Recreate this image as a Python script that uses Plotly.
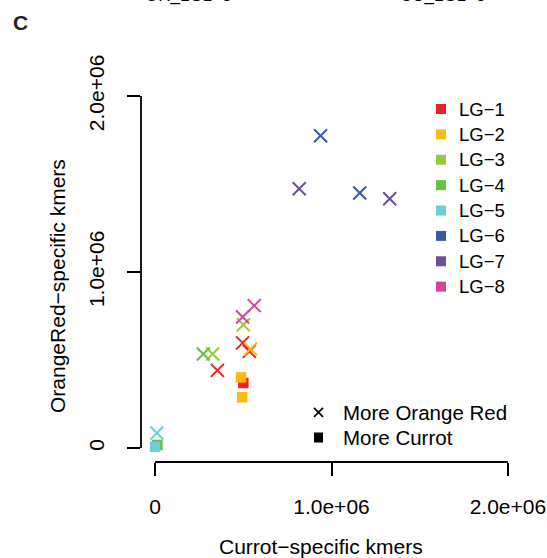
import plotly.graph_objects as go

# Linkage groups and their colours
lg_names = ["LG−1", "LG−2", "LG−3", "LG−4", "LG−5", "LG−6", "LG−7", "LG−8"]
lg_colors = ["#EE2025", "#FDBB13", "#99C93C", "#6ABD45",
             "#6DCCDD", "#3B59A8", "#6C4E9F", "#D8439A"]

# Windows with more OrangeRed-specific kmers (drawn as crosses)
or_lg = [1, 1, 1, 2, 3, 3, 4, 5, 6, 6, 7, 7, 8, 8]
or_currot = [353000, 496000, 534000, 541000, 326000, 500000, 273000,
             10000, 938000, 1160000, 817000, 1330000, 496000, 562000]
or_orange = [441000, 597000, 549000, 562000, 534000, 700000, 534000,
             85000, 1774000, 1449000, 1473000, 1416000, 744000, 809000]

# Windows with more Currot-specific kmers (drawn as filled squares)
cu_lg = [1, 2, 2, 4, 5]
cu_currot = [500000, 487000, 494000, 13000, 0]
cu_orange = [369000, 401000, 288000, 17000, 6000]

tick_vals = [0, 1000000, 2000000]
tick_text = ["0", "1.0e+06", "2.0e+06"]
axis_range = [-80000, 2080000]

FONT = "Liberation Sans, Arial, Helvetica, sans-serif"
W, H = 547, 558
ML, MR, MT, MB = 141, 25, 82, 96
PW, PH = W - ML - MR, H - MT - MB


def px(x):
    return (x - ML) / PW


def py(y):
    return (H - MB - y) / PH


fig = go.Figure()

for i, (name, col) in enumerate(zip(lg_names, lg_colors), start=1):
    sx = [x for x, g in zip(cu_currot, cu_lg) if g == i]
    sy = [y for y, g in zip(cu_orange, cu_lg) if g == i]
    if sx:
        fig.add_trace(go.Scatter(
            x=sx, y=sy, mode="markers", name=name, showlegend=False,
            marker=dict(symbol="square", size=10.5, color=col,
                        line=dict(width=0)),
        ))
    cx = [x for x, g in zip(or_currot, or_lg) if g == i]
    cy = [y for y, g in zip(or_orange, or_lg) if g == i]
    if cx:
        fig.add_trace(go.Scatter(
            x=cx, y=cy, mode="markers", name=name, showlegend=False,
            marker=dict(symbol="x-thin", size=13, color=col,
                        line=dict(width=2, color=col)),
        ))

shapes = []
# R-style axis lines spanning only first to last tick
shapes.append(dict(type="line", xref="x", yref="paper",
                   x0=tick_vals[0], x1=tick_vals[-1], y0=0, y1=0,
                   line=dict(color="black", width=1.8)))
shapes.append(dict(type="line", xref="paper", yref="y",
                   x0=0, x1=0, y0=tick_vals[0], y1=tick_vals[-1],
                   line=dict(color="black", width=1.8)))

annotations = []
# Linkage-group legend
for i, (name, col) in enumerate(zip(lg_names, lg_colors)):
    cy = 109 + 25.38 * i
    shapes.append(dict(type="rect", xref="paper", yref="paper",
                       x0=px(436), x1=px(446), y0=py(cy + 5), y1=py(cy - 5),
                       fillcolor=col, line=dict(width=0)))
    annotations.append(dict(text=name, x=px(458), y=py(cy), xref="paper",
                            yref="paper", xanchor="left", yanchor="middle",
                            showarrow=False, borderpad=0,
                            font=dict(size=18.5, family=FONT, color="black")))

# Symbol legend
cx, cy = 318.5, 412.3
shapes.append(dict(type="line", xref="paper", yref="paper",
                   x0=px(cx - 4.5), x1=px(cx + 4.5), y0=py(cy - 4.5), y1=py(cy + 4.5),
                   line=dict(color="black", width=1.8)))
shapes.append(dict(type="line", xref="paper", yref="paper",
                   x0=px(cx - 4.5), x1=px(cx + 4.5), y0=py(cy + 4.5), y1=py(cy - 4.5),
                   line=dict(color="black", width=1.8)))
cy2 = 437.5
shapes.append(dict(type="rect", xref="paper", yref="paper",
                   x0=px(cx - 4.5), x1=px(cx + 4.5), y0=py(cy2 + 5), y1=py(cy2 - 5),
                   fillcolor="black", line=dict(width=0)))
for label, yy in [("More Orange Red", cy), ("More Currot", cy2)]:
    annotations.append(dict(text=label, x=px(342), y=py(yy), xref="paper",
                            yref="paper", xanchor="left", yanchor="middle",
                            showarrow=False, borderpad=0,
                            font=dict(size=20.5, family=FONT, color="black")))

# Axis titles
annotations.append(dict(text="Currot−specific kmers", x=px(321), y=py(546),
                        xref="paper", yref="paper", xanchor="center",
                        yanchor="middle", showarrow=False, borderpad=0,
                        font=dict(size=21, family=FONT, color="black")))
annotations.append(dict(text="OrangeRed−specific kmers", x=px(57), y=py(286),
                        xref="paper", yref="paper", xanchor="center",
                        yanchor="middle", showarrow=False, borderpad=0,
                        textangle=-90,
                        font=dict(size=21, family=FONT, color="black")))
# Panel letter
annotations.append(dict(text="<b>C</b>", x=px(12), y=py(22.5), xref="paper",
                        yref="paper", xanchor="left", yanchor="middle",
                        showarrow=False, borderpad=0,
                        font=dict(size=21, family=FONT, color="#222222")))
# Titles of the panels above, mostly outside the page
for label, xx in [("OR_LG1−8", 188), ("CU_LG1−8", 443)]:
    annotations.append(dict(text=label, x=px(xx), y=py(5.5), xref="paper",
                            yref="paper", xanchor="center", yanchor="bottom",
                            showarrow=False, borderpad=0,
                            font=dict(size=17, family=FONT, color="black")))

axis_common = dict(
    range=axis_range, tickvals=tick_vals, ticktext=tick_text,
    showline=False, zeroline=False, showgrid=False, automargin=False,
    ticks="outside", ticklen=13, tickwidth=1.8, tickcolor="black",
    tickfont=dict(size=21, family=FONT, color="black"),
)

fig.update_layout(
    width=W, height=H,
    margin=dict(l=ML, r=MR, t=MT, b=MB, pad=0, autoexpand=False),
    paper_bgcolor="white", plot_bgcolor="white",
    xaxis=dict(**axis_common, ticklabelstandoff=13),
    yaxis=dict(**axis_common, tickangle=-90, ticklabelstandoff=15),
    shapes=shapes, annotations=annotations,
    showlegend=False,
)

fig.write_html("out.html")
